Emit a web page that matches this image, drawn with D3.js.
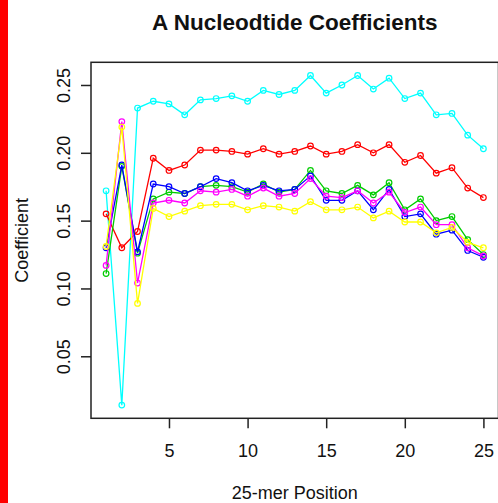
<!DOCTYPE html>
<html>
<head>
<meta charset="utf-8">
<script src="https://cdn.jsdelivr.net/npm/d3@7"></script>
<style>
	html, body { margin: 0; padding: 0; background: #fff; }
	svg { display: block; }
	text { font-family: "Liberation Sans", Arial, sans-serif; fill: #111; }
</style>
</head>
<body>
<script>
var positions = d3.range(1, 26);
var xTicks = [5, 10, 15, 20, 25];
var yTicks = [0.05, 0.10, 0.15, 0.20, 0.25];

var cyanVals = [0.172, 0.014, 0.233, 0.238, 0.236, 0.228, 0.239, 0.240, 0.242, 0.238, 0.246, 0.243, 0.246,
		0.257, 0.244, 0.250, 0.257, 0.247, 0.255, 0.240, 0.244, 0.228, 0.229, 0.213, 0.203];
var redVals = [0.155, 0.130, 0.142, 0.196, 0.187, 0.191, 0.202, 0.202, 0.201, 0.199, 0.203, 0.199, 0.201,
		0.205, 0.199, 0.201, 0.206, 0.200, 0.206, 0.193, 0.198, 0.185, 0.189, 0.174, 0.167];
var greenVals = [0.111, 0.190, 0.126, 0.166, 0.171, 0.170, 0.175, 0.176, 0.175, 0.171, 0.177, 0.171, 0.173,
		0.187, 0.172, 0.170, 0.176, 0.169, 0.178, 0.158, 0.166, 0.150, 0.153, 0.136, 0.125];
var blueVals = [0.130, 0.191, 0.127, 0.177, 0.175, 0.170, 0.175, 0.181, 0.178, 0.172, 0.176, 0.172, 0.173,
		0.183, 0.165, 0.165, 0.172, 0.158, 0.173, 0.153, 0.155, 0.140, 0.143, 0.128, 0.123];
var magentaVals = [0.117, 0.223, 0.104, 0.163, 0.165, 0.163, 0.172, 0.171, 0.173, 0.168, 0.174, 0.168, 0.170,
		0.181, 0.168, 0.167, 0.172, 0.163, 0.171, 0.156, 0.160, 0.147, 0.147, 0.130, 0.124];
var yellowVals = [0.131, 0.219, 0.089, 0.159, 0.153, 0.157, 0.161, 0.162, 0.162, 0.158, 0.161, 0.160, 0.157,
		0.164, 0.158, 0.158, 0.160, 0.152, 0.157, 0.149, 0.149, 0.141, 0.145, 0.134, 0.130];

var seriesNames = ["cyan", "red", "green", "blue", "magenta", "yellow"];
var seriesColors = ["#00ffff", "#ff0000", "#00cc00", "#0000ff", "#ff00ff", "#ffff00"];
var seriesVals = [cyanVals, redVals, greenVals, blueVals, magentaVals, yellowVals];

var width = 498, height = 503;
var box = {left: 91, right: 498.5, top: 62.3, bottom: 418.3};

var svg = d3.select("body").append("svg")
	.attr("width", width)
	.attr("height", height);

// red strip at the left edge
svg.append("rect")
	.attr("x", 0).attr("y", 0)
	.attr("width", 8).attr("height", height)
	.attr("fill", "#ff0000");

// R style 4% padding on both axes
var allVals = d3.merge(seriesVals);
var yMin = d3.min(allVals), yMax = d3.max(allVals), yPad = (yMax - yMin) * 0.04;
var xPad = (25 - 1) * 0.04;

var x = d3.scaleLinear().domain([1 - xPad, 25 + xPad]).range([box.left, box.right]);
var y = d3.scaleLinear().domain([yMin - yPad, yMax + yPad]).range([box.bottom, box.top]);

var line = d3.line()
	.x(function(d, i) { return x(positions[i]); })
	.y(function(d) { return y(d); });

var g = svg.append("g");

seriesVals.forEach(function(vals, k) {
	var col = seriesColors[k];
	g.append("path")
		.datum(vals)
		.attr("class", "line " + seriesNames[k])
		.attr("fill", "none")
		.attr("stroke", col)
		.attr("stroke-width", 1.3)
		.attr("d", line);
	g.selectAll("circle." + seriesNames[k])
		.data(vals)
		.enter().append("circle")
			.attr("class", seriesNames[k])
			.attr("cx", function(d, i) { return x(positions[i]); })
			.attr("cy", function(d) { return y(d); })
			.attr("r", 2.8)
			.attr("fill", "none")
			.attr("stroke", col)
			.attr("stroke-width", 1.2);
});

// frame
svg.append("rect")
	.attr("x", box.left).attr("y", box.top)
	.attr("width", box.right - box.left)
	.attr("height", box.bottom - box.top)
	.attr("fill", "none")
	.attr("stroke", "#222")
	.attr("stroke-width", 1.5);

var xAxis = d3.axisBottom(x).tickValues(xTicks).tickSize(10).tickPadding(16).tickFormat(d3.format("d"));
var xg = svg.append("g")
	.attr("class", "axis axis--x")
	.attr("transform", "translate(0," + box.bottom + ")")
	.call(xAxis);
xg.select(".domain").remove();
xg.selectAll("line").attr("stroke", "#222").attr("stroke-width", 1.5);
xg.selectAll("text")
	.attr("font-size", 18)
	.attr("font-family", "Liberation Sans, Arial, sans-serif")
	.attr("fill", "#111");

var yAxis = d3.axisLeft(y).tickValues(yTicks).tickSize(10).tickFormat(d3.format(".2f"));
var yg = svg.append("g")
	.attr("class", "axis axis--y")
	.attr("transform", "translate(" + box.left + ",0)")
	.call(yAxis);
yg.select(".domain").remove();
yg.selectAll("line").attr("stroke", "#222").attr("stroke-width", 1.5);
yg.selectAll("text")
	.attr("x", null).attr("dy", null)
	.attr("font-size", 18)
	.attr("font-family", "Liberation Sans, Arial, sans-serif")
	.attr("fill", "#111")
	.attr("text-anchor", "middle")
	.attr("transform", "translate(-21,0) rotate(-90)");

svg.append("text")
	.attr("x", (box.left + box.right) / 2)
	.attr("y", 30)
	.attr("text-anchor", "middle")
	.attr("font-size", 22.5)
	.attr("font-weight", "bold")
	.text("A Nucleodtide Coefficients");

svg.append("text")
	.attr("x", (box.left + box.right) / 2)
	.attr("y", 499)
	.attr("text-anchor", "middle")
	.attr("font-size", 18)
	.text("25-mer Position");

svg.append("text")
	.attr("transform", "translate(28," + ((box.top + box.bottom) / 2) + ") rotate(-90)")
	.attr("text-anchor", "middle")
	.attr("font-size", 18)
	.text("Coefficient");
</script>
</body>
</html>
